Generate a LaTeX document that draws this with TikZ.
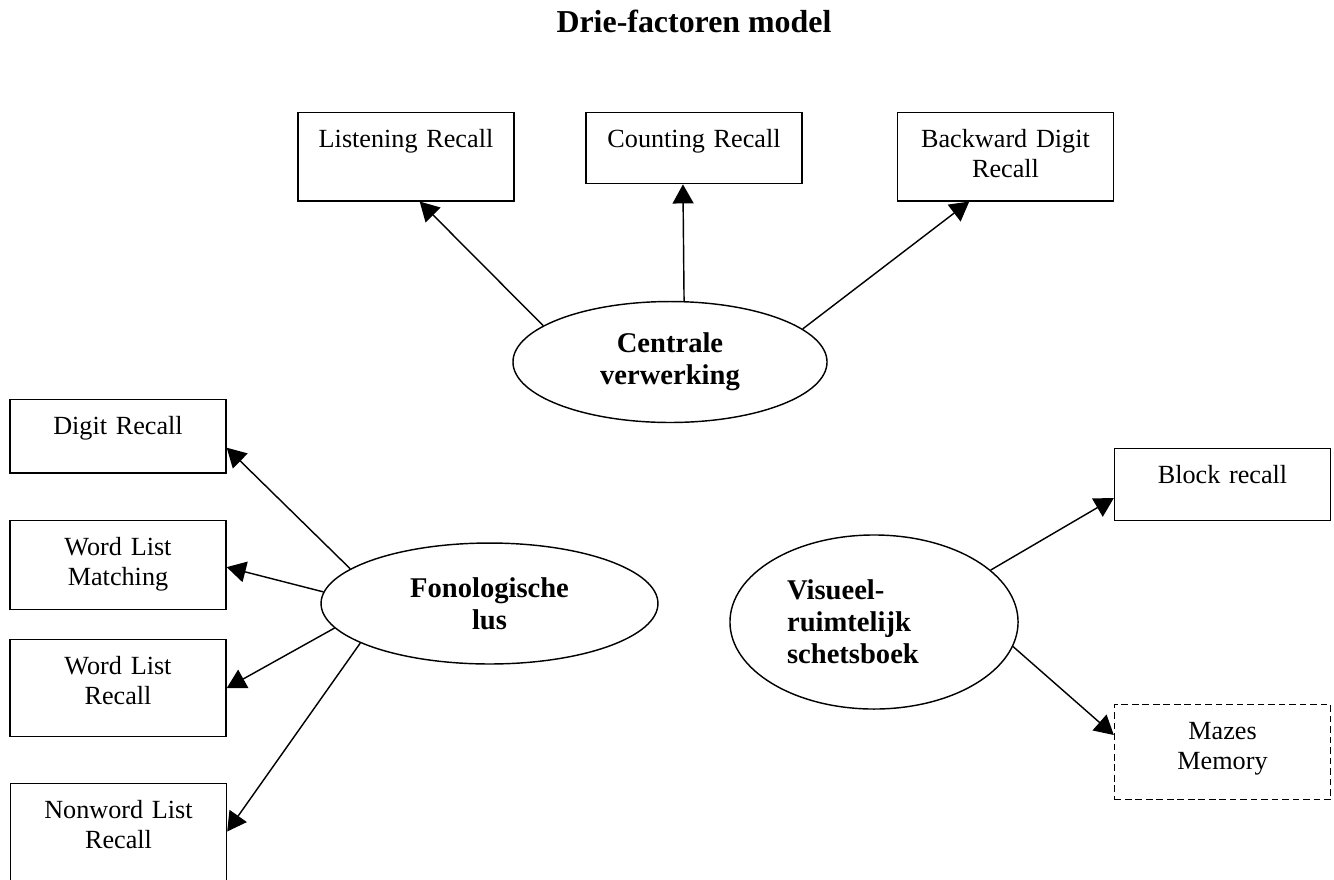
\documentclass[tikz,border=0pt]{standalone}
\usepackage{fontspec}
\setmainfont{Liberation Serif}
\usepackage{tikz}
\usetikzlibrary{arrows.meta}
\usetikzlibrary{shapes.geometric}
\tikzset{
  task/.style={
    draw, rectangle, line width=0.6pt, anchor=north,
    text width=90.7pt, align=center, inner xsep=0pt, inner ysep=0pt,
    text height=14.7pt, text depth=#1,
    font=\fontsize{11}{12.6}\selectfont
  },
  factor/.style={
    draw, ellipse, line width=0.6pt, inner sep=0pt, align=center,
    font=\bfseries\fontsize{12}{13.4}\selectfont
  },
  load/.style={
    line width=0.6pt, -{Triangle[length=8pt,width=8.8pt]}
  }
}

\begin{document}
\begin{tikzpicture}[x=0.42pt, y=-0.42pt]
		\useasboundingbox (0,0) rectangle (1334,879);
		\node (title) at (694,32) [anchor=base, font=\bfseries\fontsize{13.4}{16}\selectfont] {Drie-factoren model};
		%
		\node (listen) at (406,112) [task=22.3pt] {Listening Recall};
		\node (count) at (694,112) [task=15.1pt] {Counting Recall};
		\node (backdigit) at (1005.5,112) [task=22.3pt] {Backward Digit\\Recall};
		\node (central) at (670,362) [factor, minimum width=131.9pt, minimum height=50.8pt] {Centrale\\verwerking};
		%
		\node (digit) at (118,399) [task=16pt] {Digit Recall};
		\node (wlmatch) at (118,520) [task=22.7pt] {Word List\\Matching};
		\node (wlrecall) at (118,639) [task=26pt] {Word List\\Recall};
		\node (nonword) at (118.5,783) [task=39.9pt] {Nonword List\\Recall};
		\node (phon) at (489.5,603.5) [factor, minimum width=141.5pt, minimum height=50.8pt] {Fonologische\\lus};
		%
		\node (visuo) at (874,622) [factor, minimum width=121pt, minimum height=73.1pt, text width=73pt, align=left] {Visueel-\\ruimtelijk\\schetsboek};
		\node (block) at (1222.5,448) [task=15.5pt] {Block recall};
		\node (mazes) at (1222.5,704) [task=25.2pt, dash pattern=on 2.8pt off 1.6pt] {Mazes\\Memory};
		%
		\draw[load] (central.164) -- (listen.-73.5);
		\draw[load] (central.77.6) -- (count.-107.2);
		\draw[load] (central.14.3) -- (backdigit.-129.7);
		%
		\draw[load] (phon.166) -- (digit.-6.6);
		\draw[load] (phon.176) -- (wlmatch.-1.9);
		\draw[load] (phon.-171.4) -- (wlrecall.east);
		\draw[load] (phon.-163) -- (nonword.9.4);
		%
		\draw[load] (visuo.24) -- (block.-173.2);
		\draw[load] (visuo.-10.5) -- (mazes.171.4);
	\end{tikzpicture}
\end{document}
